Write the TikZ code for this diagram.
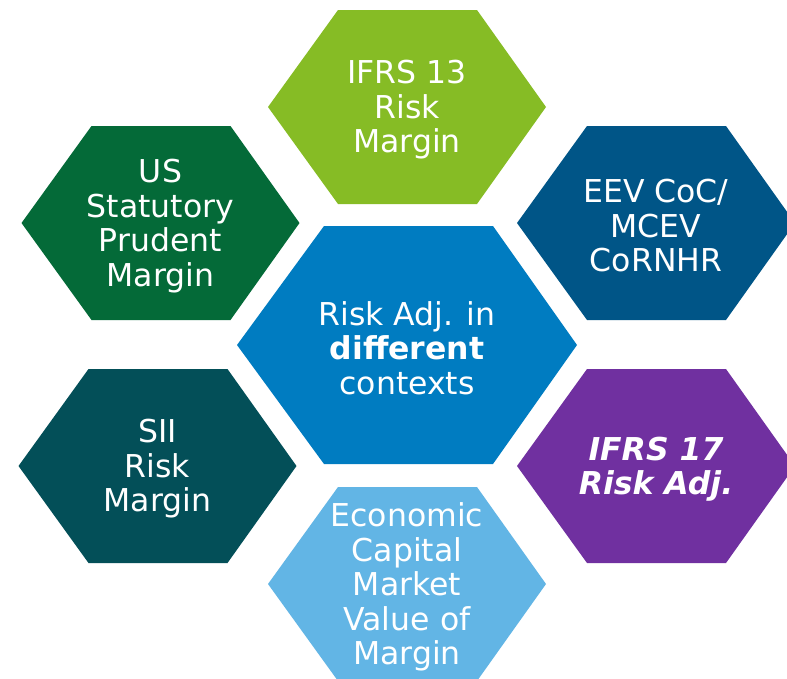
\documentclass[tikz,border=0pt]{standalone}
\usepackage{fontspec}
\setmainfont{DejaVu Sans}
\definecolor{cLime}{HTML}{86BC25}
\definecolor{cDkGreen}{HTML}{046A38}
\definecolor{cNavy}{HTML}{005587}
\definecolor{cBlue}{HTML}{007CC1}
\definecolor{cPurple}{HTML}{7030A0}
\definecolor{cTeal}{HTML}{034F58}
\definecolor{cLtBlue}{HTML}{62B5E5}
\newcommand\smallhex[3]{\fill[#3,shift={(#1,#2)}] (-139,0) -- (-69,-97) -- (70,-97) -- (139,0) -- (70,97) -- (-69,97) -- cycle;}
\newcommand\bighex[3]{\fill[#3,shift={(#1,#2)}] (-170,0) -- (-83,-119) -- (86,-119) -- (170,0) -- (86,119) -- (-83,119) -- cycle;}
\begin{document}
\begin{tikzpicture}[x=1pt,y=-1pt,
  lbl/.style={text=white,align=center,inner sep=0pt,yshift=-3pt,font=\fontsize{31.5}{34.5}\selectfont}]
\useasboundingbox (0,0) rectangle (787,678);
\clip (0,0) rectangle (787,678);
\fill[white] (0,0) rectangle (787,678);
\smallhex{407}{107}{cLime}
\smallhex{160.5}{223}{cDkGreen}
\smallhex{656}{223}{cNavy}
\bighex{407}{345}{cBlue}
\smallhex{157.5}{466}{cTeal}
\smallhex{656}{466}{cPurple}
\smallhex{407}{584}{cLtBlue}
\node[lbl] (ifrs13) at (407,107) {IFRS 13\\Risk\\Margin};
\node[lbl] (usstat) at (160.5,223) {US\\Statutory\\Prudent\\Margin};
\node[lbl] (eev) at (656,223) {EEV CoC/\\MCEV\\CoRNHR};
\node[lbl] (centre) at (407,345) {Risk Adj. in\\\textbf{different}\\contexts};
\node[lbl] (sii) at (157.5,466) {SII\\Risk\\Margin};
\node[lbl,font=\fontsize{31.5}{34.5}\selectfont\bfseries\itshape] (ifrs17) at (656,466) {IFRS 17\\Risk Adj.};
\node[lbl] (econ) at (407,584) {Economic\\Capital\\Market\\Value of\\Margin};
\end{tikzpicture}
\end{document}
